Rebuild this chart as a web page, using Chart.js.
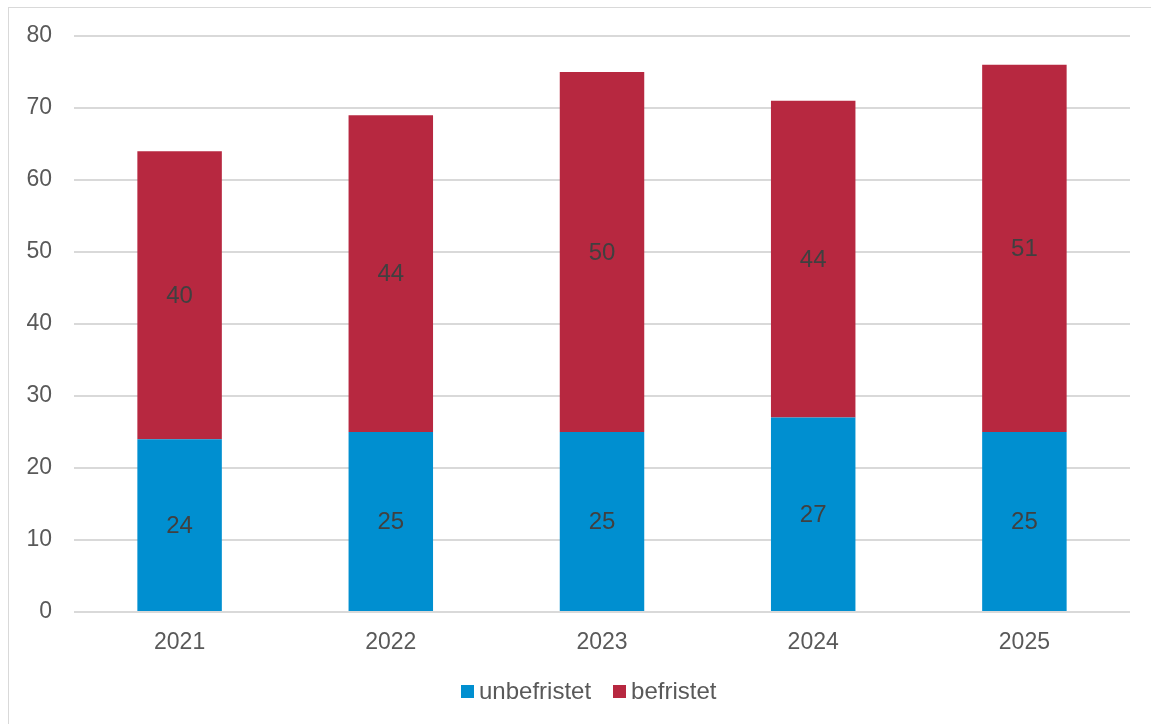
<!DOCTYPE html>
<html>
<head>
<meta charset="utf-8">
<script src="https://cdn.jsdelivr.net/npm/chart.js@4"></script>
<style>
body{margin:0;background:#fff;font-family:"Liberation Sans",Arial,sans-serif;overflow:hidden}
#frame{position:absolute;left:8px;top:7px;width:1300px;height:900px;border:1px solid #d9d9d9}
#wrap{position:absolute;left:0;top:0;width:1151px;height:724px}
#legend{position:absolute;left:461px;top:677px;display:flex;align-items:center;font-size:24px;color:#595959}
#legend span.box{display:inline-block;width:13px;height:13px;margin-right:5px}
#legend span.item{display:flex;align-items:center;margin-right:22px}
</style>
</head>
<body>
<div id="frame"></div>
<div id="wrap"><canvas id="chart"></canvas></div>
<div id="legend"></div>
<script>

const years = ["2021","2022","2023","2024","2025"]
const unbefristet = [24,25,25,27,25]
const befristet = [40,44,50,44,51]
const yTicks = [0,10,20,30,40,50,60,70,80]

const blue = "#008FD0"
const red = "#B72840"

/* legend in html */
const legend = document.getElementById("legend")
;[["unbefristet",blue],["befristet",red]].forEach(function(it){
const item = document.createElement("span")
item.className = "item"
item.innerHTML = '<span class="box" style="background:'+it[1]+'"></span>'+it[0]
legend.appendChild(item)
})

/* values in the middle of each segment */
const segmentLabels = {
id:"segmentLabels",
afterDatasetsDraw(chart){
const ctx = chart.ctx
ctx.save()
ctx.font = '24px "Liberation Sans", Arial, sans-serif'
ctx.fillStyle = "#404040"
ctx.textAlign = "center"
ctx.textBaseline = "middle"
chart.data.datasets.forEach(function(ds,i){
chart.getDatasetMeta(i).data.forEach(function(bar,j){
ctx.fillText(ds.data[j], bar.x, (bar.y + bar.base)/2 + 1)
})
})
ctx.restore()
}
}

new Chart(document.getElementById("chart"),{

type:"bar",

data:{
labels:years,
datasets:[
{label:"unbefristet",data:unbefristet,backgroundColor:blue,categoryPercentage:1,barPercentage:0.4},
{label:"befristet",data:befristet,backgroundColor:red,categoryPercentage:1,barPercentage:0.4}
]
},

options:{
responsive:true,
maintainAspectRatio:false,
animation:false,
layout:{padding:{top:36,right:21,bottom:0,left:0}},
plugins:{legend:{display:false},tooltip:{enabled:false}},
scales:{
x:{
stacked:true,
grid:{display:false},
border:{display:false},
ticks:{color:"#595959",font:{size:23,family:'"Liberation Sans", Arial, sans-serif'},padding:9},
afterFit(scale){scale.height = 112}
},
y:{
stacked:true,
min:0,
max:80,
afterBuildTicks(scale){scale.ticks = yTicks.map(v=>({value:v}))},
grid:{color:"#d9d9d9",lineWidth:2,drawTicks:false},
border:{display:false},
ticks:{color:"#595959",font:{size:23,family:'"Liberation Sans", Arial, sans-serif'},padding:22},
afterFit(scale){scale.width = 74}
}
}
},

plugins:[segmentLabels]

})
</script>
</body>
</html>
